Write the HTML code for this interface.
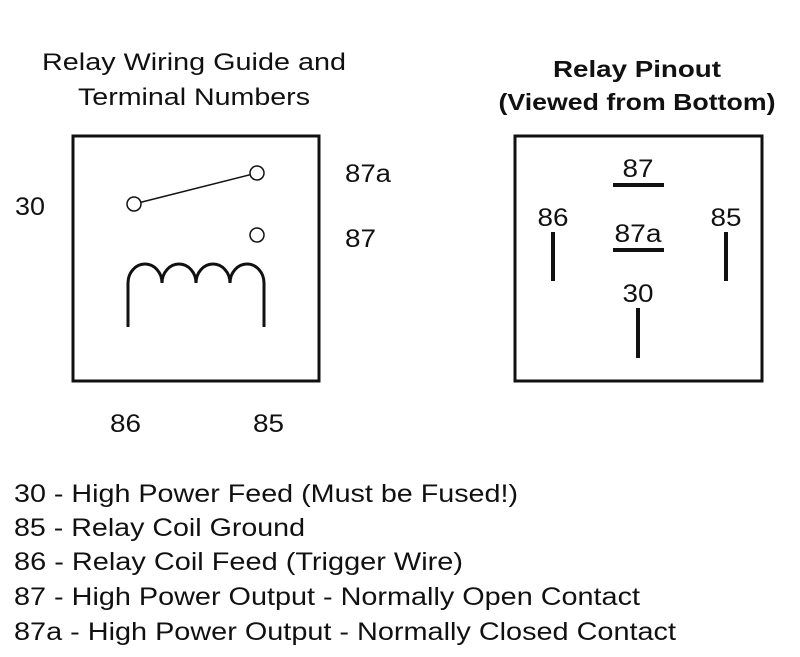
<!DOCTYPE html>
<html><head><meta charset="utf-8"><style>
html,body{margin:0;padding:0;background:#fff;}
svg{display:block;}
text{font-family:"Liberation Sans",sans-serif;fill:#111;}
</style></head><body>
<svg width="800" height="657" viewBox="0 0 800 657" xmlns="http://www.w3.org/2000/svg">
<text x="194" y="70" font-size="24" text-anchor="middle" textLength="304" lengthAdjust="spacingAndGlyphs">Relay Wiring Guide and</text>
<text x="194" y="105" font-size="24" text-anchor="middle" textLength="232" lengthAdjust="spacingAndGlyphs">Terminal Numbers</text>
<rect x="73" y="136" width="246" height="245" fill="none" stroke="#111" stroke-width="3"/>
<line x1="134" y1="204" x2="257" y2="173" stroke="#111" stroke-width="1.5"/>
<circle cx="134" cy="204" r="7" fill="#fff" stroke="#111" stroke-width="1.5"/>
<circle cx="257" cy="173" r="7" fill="#fff" stroke="#111" stroke-width="1.5"/>
<circle cx="257" cy="235" r="7" fill="#fff" stroke="#111" stroke-width="1.5"/>
<path d="M128 327 V283 A17 19 0 0 1 162 283 A17 19 0 0 1 196 283 A17 19 0 0 1 230 283 A17 19 0 0 1 264 283 V327" fill="none" stroke="#111" stroke-width="3"/>
<text x="15" y="215" font-size="25" textLength="30" lengthAdjust="spacingAndGlyphs">30</text>
<text x="345" y="182" font-size="25" textLength="46" lengthAdjust="spacingAndGlyphs">87a</text>
<text x="345" y="247" font-size="25" textLength="31" lengthAdjust="spacingAndGlyphs">87</text>
<text x="110" y="432" font-size="25" textLength="31" lengthAdjust="spacingAndGlyphs">86</text>
<text x="253" y="432" font-size="25" textLength="31" lengthAdjust="spacingAndGlyphs">85</text>

<text x="637" y="77" font-size="23" font-weight="bold" text-anchor="middle" textLength="168" lengthAdjust="spacingAndGlyphs">Relay Pinout</text>
<text x="637" y="110" font-size="23" font-weight="bold" text-anchor="middle" textLength="277" lengthAdjust="spacingAndGlyphs">(Viewed from Bottom)</text>
<rect x="515" y="136" width="247" height="245" fill="none" stroke="#111" stroke-width="3"/>
<text x="638" y="177" font-size="25" text-anchor="middle" textLength="31" lengthAdjust="spacingAndGlyphs">87</text>
<rect x="613" y="183" width="51" height="4" fill="#111"/>
<text x="638" y="242" font-size="25" text-anchor="middle" textLength="47" lengthAdjust="spacingAndGlyphs">87a</text>
<rect x="613" y="248" width="51" height="4" fill="#111"/>
<text x="553" y="226" font-size="25" text-anchor="middle" textLength="31" lengthAdjust="spacingAndGlyphs">86</text>
<rect x="551" y="232" width="4" height="49" fill="#111"/>
<text x="726" y="226" font-size="25" text-anchor="middle" textLength="31" lengthAdjust="spacingAndGlyphs">85</text>
<rect x="724" y="232" width="4" height="49" fill="#111"/>
<text x="638" y="302" font-size="25" text-anchor="middle" textLength="31" lengthAdjust="spacingAndGlyphs">30</text>
<rect x="636" y="308" width="4" height="50" fill="#111"/>

<text x="14" y="502" font-size="25" textLength="504" lengthAdjust="spacingAndGlyphs">30 - High Power Feed (Must be Fused!)</text>
<text x="14" y="536" font-size="25" textLength="291" lengthAdjust="spacingAndGlyphs">85 - Relay Coil Ground</text>
<text x="14" y="570" font-size="25" textLength="449" lengthAdjust="spacingAndGlyphs">86 - Relay Coil Feed (Trigger Wire)</text>
<text x="14" y="605" font-size="25" textLength="626" lengthAdjust="spacingAndGlyphs">87 - High Power Output - Normally Open Contact</text>
<text x="14" y="640" font-size="25" textLength="662" lengthAdjust="spacingAndGlyphs">87a - High Power Output - Normally Closed Contact</text>
</svg>
</body></html>
